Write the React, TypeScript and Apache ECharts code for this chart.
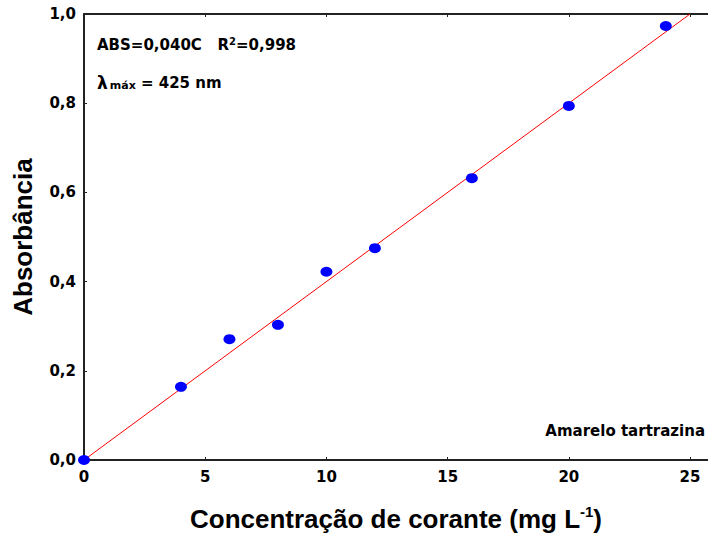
import React, { useEffect, useRef } from "react";
import * as echarts from "echarts";

const concentrations = [0, 4, 6, 8, 10, 12, 16, 20, 24];
const absorbances = [0, 0.164, 0.271, 0.303, 0.422, 0.475, 0.632, 0.794, 0.973];
const fitX = [0, 25];
const fitY = [0, 1.0];
const xTicks = [0, 5, 10, 15, 20, 25];
const yTicks = [0, 0.2, 0.4, 0.6, 0.8, 1.0];

const FONT = "'Liberation Sans', Arial, sans-serif";
const WIDE = "'DejaVu Sans', sans-serif";

export default function App() {
  const ref = useRef<HTMLDivElement>(null);
  useEffect(() => {
    if (!ref.current) return;
    const chart = echarts.init(ref.current, undefined, { renderer: "svg" });
    const axisLine = { show: true, lineStyle: { color: "#222", width: 2 } };
    const tick = { show: true, inside: true, length: 3, lineStyle: { color: "#222", width: 1 } };
    chart.setOption({
      animation: false,
      backgroundColor: "#fff",
      grid: { left: 84, top: 14, right: 0, bottom: 77, containLabel: false, outerBoundsMode: "none" },
      xAxis: [
        {
          type: "value",
          min: 0,
          max: 25.74,
          interval: 5,
          position: "bottom",
          axisLine,
          axisTick: tick,
          splitLine: { show: false },
          axisLabel: {
            showMaxLabel: false,
            margin: 9,
            color: "#000",
            fontFamily: WIDE,
            fontWeight: "bold",
            fontSize: 15,
            formatter: (v: number) => (xTicks.includes(v) ? String(v) : ""),
          },
          name: "{t|Concentração de corante (mg L}{s|-1}{t|)}",
          nameLocation: "middle",
          nameGap: 44,
          nameTextStyle: {
            rich: {
              t: { fontFamily: FONT, fontWeight: "bold", fontSize: 26, color: "#000" },
              s: { fontFamily: FONT, fontWeight: "bold", fontSize: 15, color: "#000", verticalAlign: "top", padding: [0, 0, 14, 0] },
            },
          },
        },
        {
          type: "value",
          min: 0,
          max: 25.74,
          interval: 5,
          position: "top",
          axisLine,
          axisTick: tick,
          axisLabel: { show: false },
          splitLine: { show: false },
        },
      ],
      yAxis: {
        type: "value",
        min: 0,
        max: 1.0,
        interval: 0.2,
        axisLine,
        axisTick: tick,
        splitLine: { show: false },
        axisLabel: {
          margin: 8,
          color: "#000",
          fontFamily: WIDE,
          fontWeight: "bold",
          fontSize: 15,
          formatter: (v: number) => {
            const t = yTicks.find((y) => Math.abs(y - v) < 1e-6);
            return t === undefined ? "" : t.toFixed(1).replace(".", ",");
          },
        },
        name: "Absorbância",
        nameLocation: "middle",
        nameGap: 48,
        nameTextStyle: { fontFamily: FONT, fontWeight: "bold", fontSize: 26, color: "#000" },
      },
      series: [
        {
          type: "line",
          data: fitX.map((x, i) => [x, fitY[i]]),
          showSymbol: false,
          symbol: "none",
          lineStyle: { color: "#ff0000", width: 1 },
          z: 2,
          silent: true,
        },
        {
          type: "scatter",
          data: concentrations.map((x, i) => [x, absorbances[i]]),
          symbol: "circle",
          symbolSize: [12, 10],
          itemStyle: { color: "#0000ff", opacity: 1 },
          z: 3,
        },
      ],
      graphic: [
        {
          type: "text",
          left: 97,
          top: 36,
          style: {
            text: "{t|ABS=0,040C   R}{s|2}{t|=0,998}",
            rich: {
              t: { fontFamily: WIDE, fontWeight: "bold", fontSize: 15, fill: "#000" },
              s: { fontFamily: WIDE, fontWeight: "bold", fontSize: 10, fill: "#000", verticalAlign: "top", padding: [0, 0, 8, 0] },
            },
          },
        },
        {
          type: "text",
          left: 97,
          top: 74,
          style: {
            text: "{l|λ}{s|máx}{t| = 425 nm}",
            rich: {
              l: { fontFamily: WIDE, fontWeight: "bold", fontSize: 17, fill: "#000" },
              t: { fontFamily: WIDE, fontWeight: "bold", fontSize: 15, fill: "#000" },
              s: { fontFamily: WIDE, fontWeight: "bold", fontSize: 11, fill: "#000", verticalAlign: "bottom", padding: [6, 0, 0, 2] },
            },
          },
        },
        {
          type: "text",
          right: 3,
          top: 423,
          style: {
            text: "Amarelo tartrazina",
            fontFamily: WIDE,
            fontWeight: "bold",
            fontSize: 15,
            fill: "#000",
          },
        },
      ],
    });
    return () => chart.dispose();
  }, []);
  return <div ref={ref} style={{ width: 708, height: 537, position: "absolute", left: 0, top: 0 }} />;
}
